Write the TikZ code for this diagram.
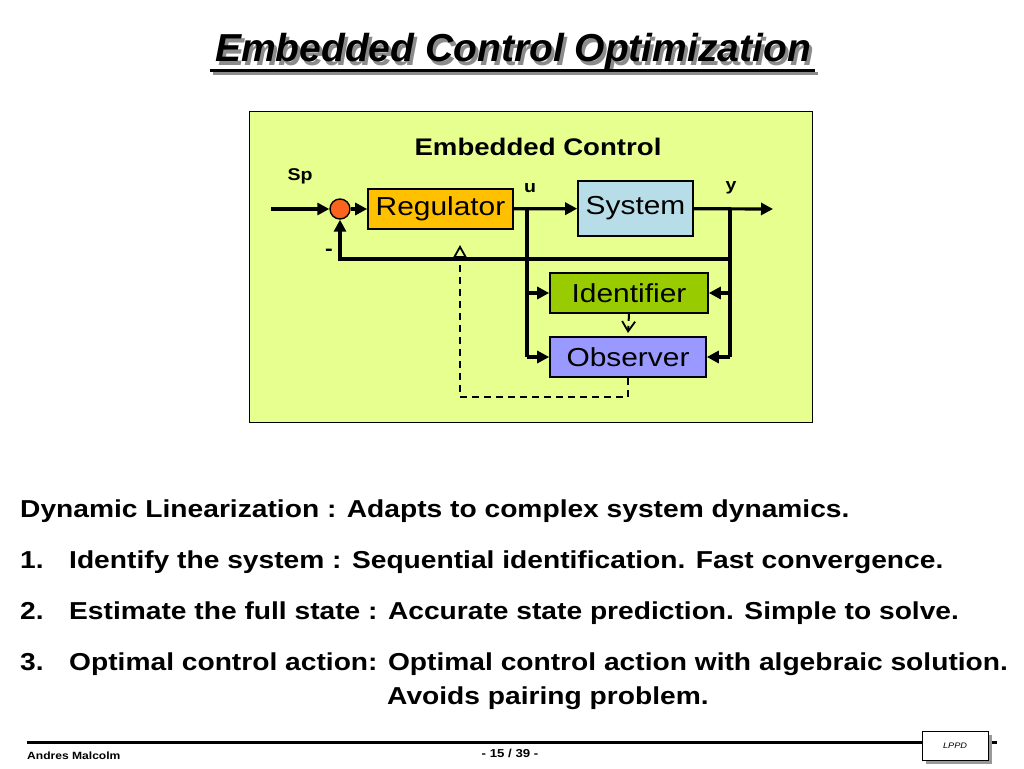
\documentclass[tikz,border=0pt]{standalone}
\usepackage{fontspec}
\setmainfont{Liberation Sans}[FakeStretch=1.15]
\newfontfamily\titlefont{Liberation Sans}
\usetikzlibrary{arrows.meta}
\definecolor{panel}{RGB}{230,255,143}
\definecolor{sumcol}{RGB}{250,100,30}
\definecolor{regcol}{RGB}{255,192,0}
\definecolor{syscol}{RGB}{183,222,232}
\definecolor{idcol}{RGB}{153,204,0}
\definecolor{obscol}{RGB}{153,153,255}
\newcommand{\fsz}[1]{\fontsize{#1}{#1}\selectfont}
\tikzset{
  blockbox/.style={draw=black, line width=1.6pt, inner sep=0pt, font=\fsz{26}},
  conn/.style={line width=3.2pt, -{Triangle[length=12pt,width=12pt]}},
  plainconn/.style={line width=3.2pt},
  dashconn/.style={line width=2pt, dash pattern=on 7pt off 5pt},
  lbl/.style={font=\bfseries\fsz{17}, inner sep=0pt},
  bodytext/.style={font=\bfseries\fsz{24.5}, anchor=base west, inner sep=0pt},
  titletext/.style={font=\titlefont\bfseries\itshape\fsz{39}, anchor=base, inner sep=0pt},
}
\begin{document}
\begin{tikzpicture}[x=1pt,y=-1pt]
\useasboundingbox (0,0) rectangle (1024,768);
\fill[white] (0,0) rectangle (1024,768);

% title (shadow drawn as an offset copy)
\node[titletext, text=black!45] (titleshadow) at (516,65) {Embedded Control Optimization};
\draw[line width=3pt, black!45] (213,73) -- (818,73);
\node[titletext] (title) at (513,62) {Embedded Control Optimization};
\draw[line width=3pt] (210,70) -- (815,70);

% panel
\node[draw=black, line width=1pt, fill=panel, minimum width=563pt, minimum height=311pt, inner sep=0pt] (panelbox) at (530.5,266.5) {};
\node[font=\bfseries\fsz{24}, anchor=base, inner sep=0pt] (paneltitle) at (538,155) {Embedded Control};

% blocks
\node[draw=black, line width=1.4pt, circle, fill=sumcol, minimum size=20pt, inner sep=0pt] (sum) at (340,209) {};
\node[blockbox, fill=regcol, minimum width=145pt, minimum height=40pt] (reg) at (440.5,209) {Regulator};
\node[blockbox, fill=syscol, minimum width=115pt, minimum height=55pt] (sys) at (635.5,208.5) {System};
\node[blockbox, fill=idcol, minimum width=158pt, minimum height=40pt] (ident) at (629,293) {Identifier};
\node[blockbox, fill=obscol, minimum width=156pt, minimum height=40pt] (obs) at (628,357) {Observer};

% coordinates
\coordinate (in) at (271,209);
\coordinate (out) at (773,209);
\coordinate (uj) at (527,209);
\coordinate (yj) at (730,209);
\coordinate (yid) at (730,293);
\coordinate (fb) at (730,259);
\coordinate (uid) at (527,293);
\coordinate (vtip) at (628,333);
\coordinate (dcorner) at (628,397);
\coordinate (dtip) at (460,245);

% labels
\node[lbl] (sp) at (300,176) {Sp};
\node[lbl] (ulbl) at (530,188) {u};
\node[lbl] (ylbl) at (731,188) {y};
\node[font=\bfseries\fsz{20}, inner sep=0pt] (minus) at (329,252) {-};

% connectors
\draw[conn] (in) -- (sum);
\draw[conn] (sum) -- (reg);
\draw[conn] (reg) -- (sys);
\draw[conn] (sys) -- (out);
\draw[plainconn] (yj) -- (yj |- obs.east);
\draw[conn] (yj |- obs.east) -- (obs.east);
\draw[conn] (yid) -- (ident.east);
\draw[plainconn] (uj) -- (uj |- obs.west);
\draw[conn] (uj |- obs.west) -- (obs.west);
\draw[conn] (uid) -- (ident.west);
\draw[conn] (fb) -| (sum.south);

% dashed
\draw[dashconn, -{Straight Barb[length=10pt,width=13pt,line width=1.8pt]}] (ident.south) -- (vtip);
\draw[dashconn, -{Triangle[open,length=13pt,width=14pt,line width=1.8pt,fill=panel]}] (obs.south) -- (dcorner) -| (dtip);

% body
\node[bodytext] (l1) at (20,517) {Dynamic Linearization : Adapts to complex system dynamics.};
\node[bodytext] (n1) at (20,568) {1.};
\node[bodytext] (l2) at (69,568) {Identify the system : Sequential identification. Fast convergence.};
\node[bodytext] (n2) at (20,619) {2.};
\node[bodytext] (l3) at (69,619) {Estimate the full state : Accurate state prediction. Simple to solve.};
\node[bodytext] (n3) at (20,670) {3.};
\node[bodytext] (l4) at (69,670) {Optimal control action: Optimal control action with algebraic solution.};
\node[bodytext] (l5) at (387,704) {Avoids pairing problem.};

% footer
\draw[line width=3pt] (27,742) -- (922,742);
\draw[line width=3pt] (988,742) -- (997,742);
\fill[black!40] (926,735) rectangle (992,764);
\node[draw=black, line width=1pt, fill=white, minimum width=66pt, minimum height=29pt, inner sep=0pt, font=\itshape\fsz{8}] (lppd) at (955,745.5) {LPPD};
\node[font=\bfseries\fsz{10.5}, anchor=base west, inner sep=0pt] (author) at (27,759) {Andres Malcolm};
\node[font=\bfseries\fsz{11.5}, anchor=base, inner sep=0pt] (page) at (510,757) {- 15 / 39 -};
\end{tikzpicture}
\end{document}
